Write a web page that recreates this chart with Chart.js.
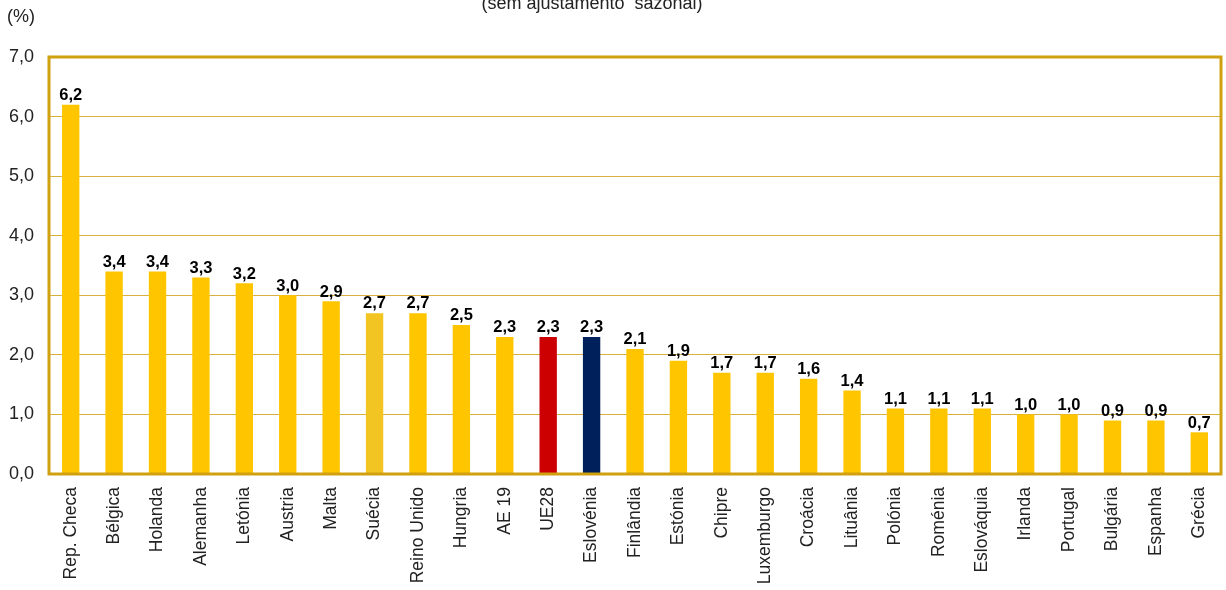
<!DOCTYPE html>
<html>
<head>
<meta charset="utf-8">
<script src="https://cdn.jsdelivr.net/npm/chart.js@4/dist/chart.umd.min.js"></script>
<style>
  html, body { margin: 0; padding: 0; background: #fff; }
  #wrap { position: relative; width: 1226px; height: 590px; }
</style>
</head>
<body>
<div id="wrap"><canvas id="c"></canvas></div>
<script>
const countries = ['Rep. Checa', 'Bélgica', 'Holanda', 'Alemanha', 'Letónia', 'Austria', 'Malta', 'Suécia',
  'Reino Unido', 'Hungria', 'AE 19', 'UE28', 'Eslovénia', 'Finlândia', 'Estónia', 'Chipre', 'Luxemburgo',
  'Croácia', 'Lituânia', 'Polónia', 'Roménia', 'Eslováquia', 'Irlanda', 'Portugal', 'Bulgária', 'Espanha', 'Grécia'];
const rates = [6.2, 3.4, 3.4, 3.3, 3.2, 3.0, 2.9, 2.7, 2.7, 2.5, 2.3, 2.3, 2.3, 2.1, 1.9, 1.7, 1.7,
  1.6, 1.4, 1.1, 1.1, 1.1, 1.0, 1.0, 0.9, 0.9, 0.7];
const yTicks = [0, 1, 2, 3, 4, 5, 6, 7];

// highlighted bars: EU average in red, Slovenia in navy, Sweden a touch paler
const barColor = (name) => name === 'UE28' ? '#CC0000'
  : name === 'Eslovénia' ? '#00205B'
  : name === 'Suécia' ? '#F2C522' : '#FFC600';

const gold = '#D0A010';
const fmt = (v) => v.toFixed(1).replace('.', ',');
const FONT = '"Liberation Sans", Arial, sans-serif';

// values over the bars + plot frame + the loose texts
const extras = {
  id: 'extras',
  afterDatasetsDraw(chart) {
    const { ctx, chartArea: a } = chart;
    ctx.save();
    ctx.strokeStyle = gold;
    ctx.lineWidth = 3;
    ctx.strokeRect(a.left, a.top, a.right - a.left, a.bottom - a.top);
    ctx.fillStyle = '#000';
    ctx.font = 'bold 16.5px ' + FONT;
    ctx.textAlign = 'center';
    ctx.textBaseline = 'bottom';
    chart.getDatasetMeta(0).data.forEach((bar, i) => {
      ctx.fillText(fmt(rates[i]), bar.x, bar.y - 1);
    });
    ctx.fillStyle = '#222';
    ctx.font = '18px ' + FONT;
    ctx.textAlign = 'left';
    ctx.textBaseline = 'middle';
    ctx.fillText('(%)', 7, 17);
    ctx.textAlign = 'center';
    ctx.fillText('(sem ajustamento  sazonal)', 592, 4);
    ctx.restore();
  }
};

new Chart(document.getElementById('c'), {
  type: 'bar',
  data: {
    labels: countries,
    datasets: [{
      data: rates,
      backgroundColor: countries.map(barColor),
      barPercentage: 0.4,
      categoryPercentage: 1
    }]
  },
  options: {
    responsive: true, maintainAspectRatio: false, animation: false,
    layout: { padding: { top: 57, right: 5, left: 0, bottom: 0 } },
    plugins: { legend: { display: false }, tooltip: { enabled: false } },
    scales: {
      x: {
        grid: { display: false },
        border: { color: '#999', width: 2 },
        ticks: {
          color: '#222', minRotation: 90, maxRotation: 90, autoSkip: false, padding: 5,
          font: { family: FONT, size: 17.5 }
        },
        afterFit: (s) => { s.height = 116; }
      },
      y: {
        min: 0, max: 7,
        afterBuildTicks: (s) => { s.ticks = yTicks.map(v => ({ value: v })); },
        grid: { color: '#D8B040', lineWidth: 1, drawTicks: false },
        border: { display: false },
        ticks: {
          color: '#222', padding: 15, callback: (v) => fmt(v),
          font: { family: FONT, size: 18 }
        },
        afterFit: (s) => { s.width = 49; }
      }
    }
  },
  plugins: [extras]
});
</script>
</body>
</html>
